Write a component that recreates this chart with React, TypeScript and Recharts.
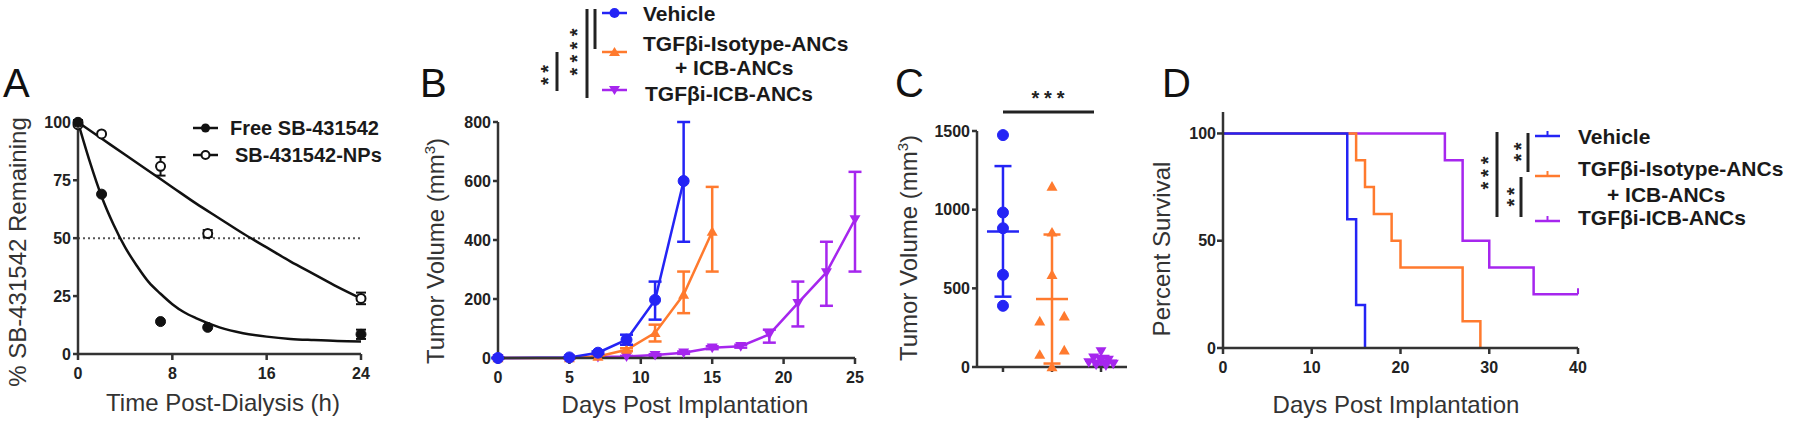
import React from 'react';
import {
  ComposedChart, LineChart, ScatterChart, Line, Scatter, XAxis, YAxis,
  ErrorBar, ReferenceLine,
} from 'recharts';

const FONT = '"Liberation Sans", Arial, Helvetica, sans-serif';
const AX = '#333';
const BLUE = '#2424f5';
const ORANGE = '#ff7a2e';
const PURPLE = '#a626ee';
const BLACK = '#111';

// ---------- Panel A data ----------
const aXTicks = [0, 8, 16, 24];
const aYTicks = [0, 25, 50, 75, 100];
const freeFit = [
  { x: 0, y: 100 }, { x: 1, y: 83 }, { x: 2, y: 68 }, { x: 3, y: 56 }, { x: 4, y: 46 },
  { x: 5, y: 38 }, { x: 6, y: 31 }, { x: 7, y: 26 }, { x: 8, y: 21.5 }, { x: 9, y: 18 },
  { x: 10, y: 15.5 }, { x: 12, y: 11.5 }, { x: 14, y: 9 }, { x: 16, y: 7.5 },
  { x: 18, y: 6.5 }, { x: 20, y: 6 }, { x: 22, y: 5.6 }, { x: 24, y: 5.4 },
];
const npFit = [
  { x: 0, y: 100 }, { x: 2, y: 93 }, { x: 4, y: 86 }, { x: 6, y: 79 }, { x: 8, y: 72 },
  { x: 10, y: 65 }, { x: 12, y: 58.5 }, { x: 14, y: 52 }, { x: 16, y: 46 }, { x: 18, y: 40 },
  { x: 20, y: 34.5 }, { x: 22, y: 29 }, { x: 24, y: 24 },
];
const freePts = [
  { x: 0, y: 100, e: 1 }, { x: 2, y: 69, e: 0 }, { x: 7, y: 14, e: 0 },
  { x: 11, y: 11.5, e: 0 }, { x: 24, y: 8.5, e: 2 },
];
const npPts = [
  { x: 0, y: 99, e: 0 }, { x: 2, y: 95, e: 0 }, { x: 7, y: 81, e: 4 },
  { x: 11, y: 52, e: 1.5 }, { x: 24, y: 24, e: 2.5 },
];

// ---------- Panel B data ----------
const bXTicks = [0, 5, 10, 15, 20, 25];
const bYTicks = [0, 200, 400, 600, 800];
const vehB = [
  { x: 0, y: 0, e: [0, 0] }, { x: 5, y: 2, e: [0, 0] }, { x: 7, y: 18, e: [4, 4] },
  { x: 9, y: 62, e: [17, 17] }, { x: 11, y: 197, e: [67, 62] }, { x: 13, y: 600, e: [206, 200] },
];
const isoB = [
  { x: 0, y: 0, e: [0, 0] }, { x: 5, y: 0, e: [0, 0] }, { x: 7, y: 5, e: [2, 2] },
  { x: 9, y: 28, e: [5, 5] }, { x: 11, y: 85, e: [29, 28] }, { x: 13, y: 215, e: [63, 78] },
  { x: 15, y: 428, e: [135, 152] },
];
const icbB = [
  { x: 0, y: 0, e: [0, 0] }, { x: 5, y: 0, e: [0, 0] }, { x: 7, y: 3, e: [0, 0] },
  { x: 9, y: 5, e: [2, 2] }, { x: 11, y: 10, e: [3, 3] }, { x: 13, y: 18, e: [4, 4] },
  { x: 15, y: 35, e: [5, 5] }, { x: 17, y: 40, e: [5, 5] }, { x: 19, y: 80, e: [28, 16] },
  { x: 21, y: 186, e: [79, 73] }, { x: 23, y: 290, e: [113, 104] }, { x: 25, y: 470, e: [177, 161] },
];

// ---------- Panel C data ----------
const cYTicks = [0, 500, 1000, 1500];
const cXTicks = [1, 2, 3];
const vehC = [
  { x: 1, y: 1474 }, { x: 1, y: 982 }, { x: 1, y: 882 }, { x: 1, y: 586 }, { x: 1, y: 389 },
];
const isoC = [
  { x: 2, y: 1147 }, { x: 2, y: 855 }, { x: 2, y: 586 }, { x: 1.75, y: 290 },
  { x: 2.25, y: 322 }, { x: 1.75, y: 78 }, { x: 2.25, y: 106 }, { x: 2, y: 0 },
];
const icbC = [
  { x: 3, y: 100 }, { x: 2.85, y: 60 }, { x: 3.15, y: 45 }, { x: 3, y: 40 },
  { x: 2.75, y: 30 }, { x: 3.25, y: 20 }, { x: 2.9, y: 15 }, { x: 3.1, y: 10 },
];
const vehCMean = [{ x: 1, y: 862, sd: 415 }];
const isoCMean = [{ x: 2, y: 432, sd: 410 }];
const icbCMean = [{ x: 3, y: 40, sd: 30 }];

// ---------- Panel D data ----------
const dXTicks = [0, 10, 20, 30, 40];
const dYTicks = [0, 50, 100];
const vehD = [{ x: 0, y: 100 }, { x: 14, y: 60 }, { x: 15, y: 20 }, { x: 16, y: 0 }];
const isoD = [
  { x: 0, y: 100 }, { x: 15, y: 87.5 }, { x: 16, y: 75 }, { x: 17, y: 62.5 }, { x: 19, y: 50 },
  { x: 20, y: 37.5 }, { x: 27, y: 12.5 }, { x: 29, y: 0 },
];
const icbD = [
  { x: 0, y: 100 }, { x: 25, y: 87.5 }, { x: 27, y: 50 }, { x: 30, y: 37.5 },
  { x: 35, y: 25 }, { x: 40, y: 25, censored: true },
];

// ---------- styles ----------
const axisLine = { stroke: AX, strokeWidth: 2.5 };
const tickStyle = { fontSize: 16, fontWeight: 700, fill: '#222', fontFamily: FONT };

const circleDot = (color: string, r: number) => (p: any) => (
  <circle key={`c-${p.index}-${p.cx}`} cx={p.cx} cy={p.cy} r={r} fill={color} stroke={color} />
);
const openDot = (color: string, r: number) => (p: any) => (
  <circle key={`o-${p.index}-${p.cx}`} cx={p.cx} cy={p.cy} r={r} fill="#fff" stroke={color} strokeWidth={2} />
);
const triUp = (color: string, s: number) => (p: any) => (
  <path key={`u-${p.index}-${p.cx}-${p.cy}`} d={`M${p.cx},${p.cy - s} L${p.cx + s},${p.cy + s * 0.75} L${p.cx - s},${p.cy + s * 0.75} Z`} fill={color} />
);
const triDown = (color: string, s: number) => (p: any) => (
  <path key={`d-${p.index}-${p.cx}-${p.cy}`} d={`M${p.cx},${p.cy + s} L${p.cx + s},${p.cy - s * 0.75} L${p.cx - s},${p.cy - s * 0.75} Z`} fill={color} />
);
const meanBar = (color: string, half: number) => (p: any) => (
  <line key={`m-${p.cx}`} x1={p.cx - half} x2={p.cx + half} y1={p.cy} y2={p.cy} stroke={color} strokeWidth={2.5} />
);
const censorDot = (color: string) => (p: any) => (
  p.payload && p.payload.censored
    ? <line key={`t-${p.index}`} x1={p.cx} x2={p.cx} y1={p.cy - 6} y2={p.cy} stroke={color} strokeWidth={2} />
    : <g key={`t-${p.index}`} />
);

const PanelA = () => (
  <div style={{ position: 'absolute', left: 0, top: 0 }}>
    <ComposedChart width={380} height={400} margin={{ top: 120, right: 19, bottom: 16, left: 28 }}>
      <XAxis dataKey="x" type="number" domain={[0, 24]} ticks={aXTicks} height={30}
        axisLine={axisLine} tickLine={axisLine} tick={tickStyle} tickSize={6} tickMargin={8} />
      <YAxis type="number" domain={[0, 100]} ticks={aYTicks} width={50}
        axisLine={axisLine} tickLine={axisLine} tick={tickStyle} tickSize={5} tickMargin={2} />
      <ReferenceLine y={50} stroke="#555" strokeWidth={2} strokeDasharray="2 3" />
      <Line data={freeFit} dataKey="y" type="monotone" stroke={BLACK} strokeWidth={2.5} dot={false} isAnimationActive={false} />
      <Line data={npFit} dataKey="y" type="monotone" stroke={BLACK} strokeWidth={2.5} dot={false} isAnimationActive={false} />
      <Scatter data={npPts} dataKey="y" shape={openDot(BLACK, 4.5)} isAnimationActive={false}>
        <ErrorBar dataKey="e" direction="y" width={5} stroke={BLACK} strokeWidth={2} />
      </Scatter>
      <Scatter data={freePts} dataKey="y" shape={circleDot(BLACK, 5)} isAnimationActive={false}>
        <ErrorBar dataKey="e" direction="y" width={5} stroke={BLACK} strokeWidth={2} />
      </Scatter>
    </ComposedChart>
  </div>
);

const PanelB = () => (
  <div style={{ position: 'absolute', left: 400, top: 0 }}>
    <LineChart width={470} height={400} margin={{ top: 122, right: 15, bottom: 12, left: 48 }}>
      <XAxis dataKey="x" type="number" domain={[0, 25]} ticks={bXTicks} height={30}
        axisLine={axisLine} tickLine={axisLine} tick={tickStyle} tickSize={6} tickMargin={8} allowDuplicatedCategory={false} />
      <YAxis type="number" domain={[0, 800]} ticks={bYTicks} width={50}
        axisLine={axisLine} tickLine={axisLine} tick={tickStyle} tickSize={5} tickMargin={2} />
      <Line data={icbB} dataKey="y" stroke={PURPLE} strokeWidth={2.5} dot={triDown(PURPLE, 5.5)} isAnimationActive={false}>
        <ErrorBar dataKey="e" direction="y" width={6.5} stroke={PURPLE} strokeWidth={2.5} />
      </Line>
      <Line data={isoB} dataKey="y" stroke={ORANGE} strokeWidth={2.5} dot={triUp(ORANGE, 5.5)} isAnimationActive={false}>
        <ErrorBar dataKey="e" direction="y" width={6.5} stroke={ORANGE} strokeWidth={2.5} />
      </Line>
      <Line data={vehB} dataKey="y" stroke={BLUE} strokeWidth={2.5} dot={circleDot(BLUE, 5.5)} isAnimationActive={false}>
        <ErrorBar dataKey="e" direction="y" width={6.5} stroke={BLUE} strokeWidth={2.5} />
      </Line>
    </LineChart>
  </div>
);

const PanelC = () => (
  <div style={{ position: 'absolute', left: 900, top: 0 }}>
    <ScatterChart width={240} height={400} margin={{ top: 131, right: 13, bottom: 3, left: 17 }}>
      <XAxis dataKey="x" type="number" domain={[0.47, 3.53]} ticks={cXTicks} height={30}
        axisLine={axisLine} tickLine={axisLine} tick={tickStyle} tickSize={5} tickFormatter={() => ''} />
      <YAxis dataKey="y" type="number" domain={[0, 1500]} ticks={cYTicks} width={60}
        axisLine={axisLine} tickLine={axisLine} tick={tickStyle} tickSize={5} tickMargin={2} />
      <Scatter data={vehCMean} shape={meanBar(BLUE, 16)} isAnimationActive={false}>
        <ErrorBar dataKey="sd" direction="y" width={8.5} stroke={BLUE} strokeWidth={2.5} />
      </Scatter>
      <Scatter data={isoCMean} shape={meanBar(ORANGE, 16)} isAnimationActive={false}>
        <ErrorBar dataKey="sd" direction="y" width={8.5} stroke={ORANGE} strokeWidth={2.5} />
      </Scatter>
      <Scatter data={icbCMean} shape={meanBar(PURPLE, 16)} isAnimationActive={false}>
        <ErrorBar dataKey="sd" direction="y" width={8.5} stroke={PURPLE} strokeWidth={2.5} />
      </Scatter>
      <Scatter data={vehC} shape={circleDot(BLUE, 5.5)} isAnimationActive={false} />
      <Scatter data={isoC} shape={triUp(ORANGE, 5.5)} isAnimationActive={false} />
      <Scatter data={icbC} shape={triDown(PURPLE, 5.5)} isAnimationActive={false} />
    </ScatterChart>
  </div>
);

const PanelD = () => (
  <div style={{ position: 'absolute', left: 1140, top: 0 }}>
    <LineChart width={450} height={400} margin={{ top: 112, right: 12, bottom: 22, left: 33 }}>
      <XAxis dataKey="x" type="number" domain={[0, 40]} ticks={dXTicks} height={30}
        axisLine={axisLine} tickLine={axisLine} tick={tickStyle} tickSize={6} tickMargin={8} allowDuplicatedCategory={false} />
      <YAxis type="number" domain={[0, 110]} ticks={dYTicks} width={50}
        axisLine={axisLine} tickLine={axisLine} tick={tickStyle} tickSize={6} tickMargin={1} />
      <Line data={icbD} dataKey="y" type="stepAfter" stroke={PURPLE} strokeWidth={2.5} dot={censorDot(PURPLE)} isAnimationActive={false} />
      <Line data={isoD} dataKey="y" type="stepAfter" stroke={ORANGE} strokeWidth={2.5} dot={false} isAnimationActive={false} />
      <Line data={vehD} dataKey="y" type="stepAfter" stroke={BLUE} strokeWidth={2.5} dot={false} isAnimationActive={false} />
    </LineChart>
  </div>
);

const T = { fontFamily: FONT, fill: '#333' } as const;
const LB = { fontFamily: FONT, fill: '#1a1a1a', fontWeight: 700 } as const;
const STAR_FS = 20;

const Stars = ({ cx, cy, text, len }: { cx: number; cy: number; text: string; len: number }) => (
  <text transform={`translate(${cx + STAR_FS * 0.575},${cy}) rotate(-90)`} textAnchor="middle" fontSize={STAR_FS}
    fontWeight={700} fontFamily={FONT} fill="#222" textLength={len} lengthAdjust="spacing">{text}</text>
);

const Overlay = () => (
  <svg width={1800} height={421} style={{ position: 'absolute', left: 0, top: 0, pointerEvents: 'none' }}>
    {/* Panel letters */}
    <text x={3} y={97} fontSize={40} {...T} fill="#111">A</text>
    <text x={420} y={97} fontSize={40} {...T} fill="#111">B</text>
    <text x={895} y={97} fontSize={40} {...T} fill="#111">C</text>
    <text x={1162} y={97} fontSize={40} {...T} fill="#111">D</text>

    {/* Panel A */}
    <text transform="translate(26,252) rotate(-90)" textAnchor="middle" fontSize={24} {...T}>% SB-431542 Remaining</text>
    <text x={223} y={411} textAnchor="middle" fontSize={24} {...T}>Time Post-Dialysis (h)</text>
    <line x1={193} x2={218} y1={128} y2={128} stroke={BLACK} strokeWidth={2.5} />
    <circle cx={205.5} cy={128} r={4.5} fill={BLACK} />
    <text x={230} y={135} fontSize={20} {...LB}>Free SB-431542</text>
    <line x1={193} x2={218} y1={155} y2={155} stroke={BLACK} strokeWidth={2.5} />
    <circle cx={205.5} cy={155} r={4} fill="#fff" stroke={BLACK} strokeWidth={2} />
    <text x={235} y={162} fontSize={20} {...LB}>SB-431542-NPs</text>

    {/* Panel B */}
    <text transform="translate(444,251) rotate(-90)" textAnchor="middle" fontSize={24} {...T}>
      Tumor Volume (mm<tspan fontSize={15} dy={-9}>3</tspan><tspan dy={9}>)</tspan>
    </text>
    <text x={685} y={413} textAnchor="middle" fontSize={24} {...T}>Days Post Implantation</text>
    <line x1={602} x2={627} y1={13} y2={13} stroke={BLUE} strokeWidth={2.5} />
    <circle cx={614.5} cy={13} r={5} fill={BLUE} />
    <text x={643} y={21} fontSize={21} {...LB}>Vehicle</text>
    <line x1={602} x2={627} y1={52} y2={52} stroke={ORANGE} strokeWidth={2.5} />
    <path d="M614.5,47 L620,56 L609,56 Z" fill={ORANGE} />
    <text x={643} y={51} fontSize={21} {...LB}>TGFβi-Isotype-ANCs</text>
    <text x={675} y={75} fontSize={21} {...LB}>+ ICB-ANCs</text>
    <line x1={602} x2={627} y1={90} y2={90} stroke={PURPLE} strokeWidth={2.5} />
    <path d="M614.5,95 L620,86 L609,86 Z" fill={PURPLE} />
    <text x={645} y={101} fontSize={21} {...LB}>TGFβi-ICB-ANCs</text>
    <line x1={557} x2={557} y1={52} y2={91} stroke="#222" strokeWidth={3} />
    <line x1={587} x2={587} y1={9} y2={98} stroke="#222" strokeWidth={3} />
    <line x1={595} x2={595} y1={9} y2={49} stroke="#222" strokeWidth={3} />
    <Stars cx={543} cy={75} text="**" len={20} />
    <Stars cx={572} cy={52} text="****" len={47} />

    {/* Panel C */}
    <text transform="translate(917,248) rotate(-90)" textAnchor="middle" fontSize={24} {...T}>
      Tumor Volume (mm<tspan fontSize={15} dy={-9}>3</tspan><tspan dy={9}>)</tspan>
    </text>
    <text x={1048} y={93 + STAR_FS * 0.575} textAnchor="middle" fontSize={STAR_FS} fontWeight={700} fontFamily={FONT} fill="#222" textLength={33} lengthAdjust="spacing">***</text>
    <line x1={1003} x2={1094} y1={112} y2={112} stroke="#222" strokeWidth={3} />

    {/* Panel D */}
    <text transform="translate(1170,249) rotate(-90)" textAnchor="middle" fontSize={24} {...T}>Percent Survival</text>
    <text x={1396} y={413} textAnchor="middle" fontSize={24} {...T}>Days Post Implantation</text>
    <line x1={1535} x2={1560} y1={136} y2={136} stroke={BLUE} strokeWidth={2.5} />
    <line x1={1547.5} x2={1547.5} y1={131} y2={136} stroke={BLUE} strokeWidth={2} />
    <text x={1578} y={143.5} fontSize={21} {...LB}>Vehicle</text>
    <line x1={1535} x2={1560} y1={176} y2={176} stroke={ORANGE} strokeWidth={2.5} />
    <line x1={1547.5} x2={1547.5} y1={171} y2={176} stroke={ORANGE} strokeWidth={2} />
    <text x={1578} y={175.5} fontSize={21} {...LB}>TGFβi-Isotype-ANCs</text>
    <text x={1607} y={202} fontSize={21} {...LB}>+ ICB-ANCs</text>
    <line x1={1535} x2={1560} y1={221} y2={221} stroke={PURPLE} strokeWidth={2.5} />
    <line x1={1547.5} x2={1547.5} y1={216} y2={221} stroke={PURPLE} strokeWidth={2} />
    <text x={1578} y={225} fontSize={21} {...LB}>TGFβi-ICB-ANCs</text>
    <line x1={1497} x2={1497} y1={132} y2={217} stroke="#222" strokeWidth={3} />
    <line x1={1528} x2={1528} y1={133} y2={172} stroke="#222" strokeWidth={3} />
    <line x1={1521} x2={1521} y1={177} y2={217} stroke="#222" strokeWidth={3} />
    <Stars cx={1483} cy={173} text="***" len={33} />
    <Stars cx={1516} cy={152} text="**" len={19} />
    <Stars cx={1509} cy={197} text="**" len={19} />
  </svg>
);

export default function App() {
  return (
    <div style={{ position: 'absolute', left: 0, top: 0, width: 1800, height: 421, background: '#fff', overflow: 'hidden', fontFamily: FONT }}>
      <PanelA />
      <PanelB />
      <PanelC />
      <PanelD />
      <Overlay />
    </div>
  );
}
